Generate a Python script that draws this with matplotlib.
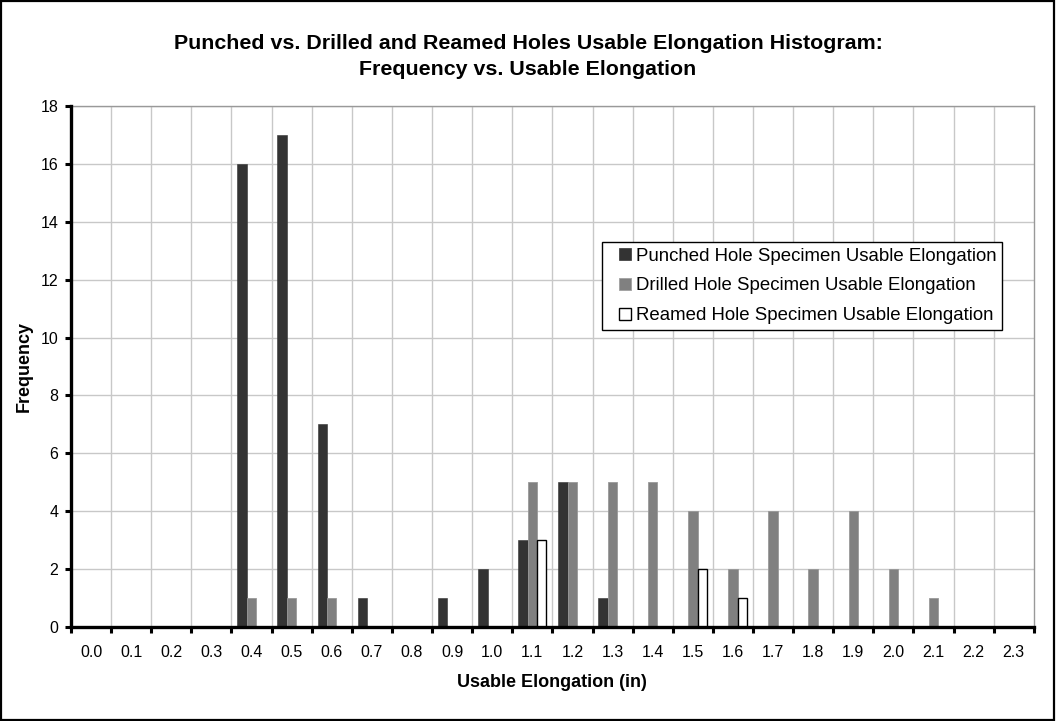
import matplotlib
matplotlib.use("Agg")
import matplotlib.pyplot as plt
import numpy as np
from matplotlib.patches import Rectangle
from matplotlib.lines import Line2D

plt.rcParams['font.family'] = ['Liberation Sans', 'DejaVu Sans']

categories = ["0.0", "0.1", "0.2", "0.3", "0.4", "0.5", "0.6", "0.7", "0.8", "0.9",
              "1.0", "1.1", "1.2", "1.3", "1.4", "1.5", "1.6", "1.7", "1.8", "1.9",
              "2.0", "2.1", "2.2", "2.3"]
punched = [0, 0, 0, 0, 16, 17, 7, 1, 0, 1, 2, 3, 5, 1, 0, 0, 0, 0, 0, 0, 0, 0, 0, 0]
drilled = [0, 0, 0, 0, 1, 1, 1, 0, 0, 0, 0, 5, 5, 5, 5, 4, 2, 4, 2, 4, 2, 1, 0, 0]
reamed  = [0, 0, 0, 0, 0, 0, 0, 0, 0, 0, 0, 3, 0, 0, 0, 2, 1, 0, 0, 0, 0, 0, 0, 0]
series_names = ["Punched Hole Specimen Usable Elongation",
                "Drilled Hole Specimen Usable Elongation",
                "Reamed Hole Specimen Usable Elongation"]

fig = plt.figure(figsize=(10.56, 7.21), dpi=100)
fig.patch.set_facecolor('white')
fig.add_artist(Rectangle((0.001, 0.001), 0.997, 0.997, transform=fig.transFigure,
                         fill=False, edgecolor='black', linewidth=1.6))

ax = fig.add_axes([0.0672, 0.1304, 0.9118, 0.7226])
x = np.arange(len(categories))
w = 0.235
ax.bar(x - w, punched, w, color='#333333', edgecolor='#333333', linewidth=0.4, zorder=3)
ax.bar(x, drilled, w, color='#808080', edgecolor='#999999', linewidth=0.6, zorder=3)
ax.bar(x + w, reamed, w, color='white', edgecolor='black', linewidth=1.0, zorder=3)

ax.set_xlim(-0.5, len(categories) - 0.5)
ax.set_ylim(0, 18)
ax.set_yticks(np.arange(0, 19, 2))
ax.set_xticks(x)
ax.set_xticklabels(categories, fontsize=11.5)
ax.set_xticks(np.arange(-0.5, len(categories), 1), minor=True)
ax.tick_params(axis='x', which='major', length=0, pad=13)
ax.tick_params(axis='x', which='minor', length=4, width=2.2, direction='out', color='black')
ax.tick_params(axis='y', length=4, width=2.2, direction='out', labelsize=11.5, pad=5)

ax.grid(False)
for v in np.arange(2, 19, 2):
    ax.axhline(v, color='#c8c8c8', linewidth=1.0, zorder=0)
for v in np.arange(0.5, len(categories) - 0.5, 1):
    ax.axvline(v, color='#c8c8c8', linewidth=1.0, zorder=0)

ax.spines['left'].set_linewidth(2.4)
ax.spines['bottom'].set_linewidth(2.4)
ax.spines['left'].set_zorder(5)
ax.spines['bottom'].set_zorder(5)
ax.spines['top'].set_color('#999999')
ax.spines['right'].set_color('#999999')
ax.spines['top'].set_linewidth(1.0)
ax.spines['right'].set_linewidth(1.0)

ax.set_xlabel("Usable Elongation (in)", fontsize=13, fontweight='bold', labelpad=10)
ax.set_ylabel("Frequency", fontsize=13, fontweight='bold', labelpad=6)

fig.text(0.5, 0.953, "Punched vs. Drilled and Reamed Holes Usable Elongation Histogram:\nFrequency vs. Usable Elongation",
         ha='center', va='top', fontsize=15.4, fontweight='bold', linespacing=1.45)

handles = [
    Line2D([], [], marker='s', linestyle='none', markersize=9.2,
           markerfacecolor='#333333', markeredgecolor='#333333', markeredgewidth=0.5),
    Line2D([], [], marker='s', linestyle='none', markersize=9.2,
           markerfacecolor='#808080', markeredgecolor='#a0a0a0', markeredgewidth=0.6),
    Line2D([], [], marker='s', linestyle='none', markersize=9.2,
           markerfacecolor='white', markeredgecolor='black', markeredgewidth=1.0),
]
leg = ax.legend(handles, series_names, loc='upper left', bbox_to_anchor=(0.5514, 0.739),
                fontsize=13.4, frameon=True, fancybox=False, edgecolor='black',
                handlelength=1.87, handletextpad=-0.34, labelspacing=0.69,
                borderpad=0.3, borderaxespad=0, framealpha=1, numpoints=1)
leg.get_frame().set_linewidth(1.0)
leg.set_zorder(10)

fig.savefig("out.png", dpi=100, facecolor='white')
